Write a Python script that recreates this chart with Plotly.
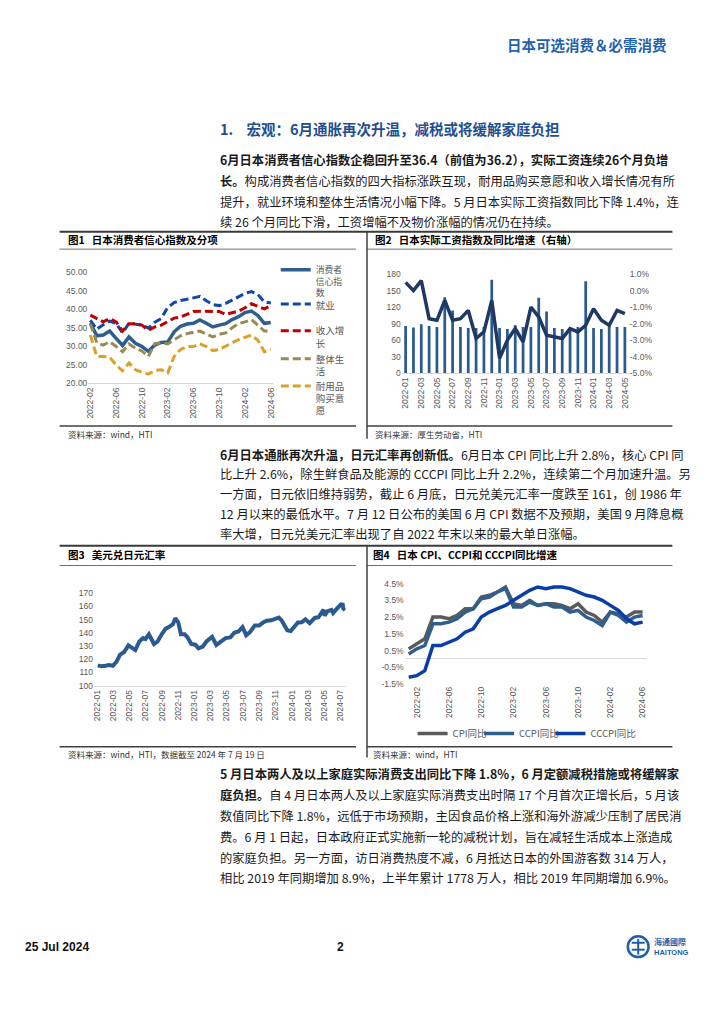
import plotly.graph_objects as go

# The page body adds an 8px margin, so the figure is drawn 8px smaller and
# reference pixel coordinates are shifted by that offset.
OFF = 8
W, H = 724 - OFF, 1024 - OFF
CJK = "Noto Sans CJK SC"
LAT = "Liberation Sans"
SP = "\u00a0"


def px(x):
    return (x - OFF) / W


def py(y):
    return 1 - (y - OFF) / H


# ---------------- data ----------------
def month_labels(y0, m0, n):
    out = []
    y, m = y0, m0
    for _ in range(n):
        out.append(f"{y}-{m:02d}")
        m += 1
        if m > 12:
            m = 1
            y += 1
    return out


# Fig 1: consumer confidence (2022-02 .. 2024-06)
c1_months = month_labels(2022, 2, 29)
conf_total = [36.3, 32.8, 33.0, 34.1, 32.1, 30.2, 32.5, 30.8, 29.9, 28.6, 30.3, 31.0, 31.1, 33.9, 35.4,
              36.0, 36.2, 37.1, 36.2, 35.2, 35.7, 36.1, 37.2, 38.0, 39.1, 39.5, 38.3, 36.2, 36.4]
conf_employ = [37.0, 34.6, 35.8, 36.8, 36.2, 33.6, 36.2, 35.9, 35.7, 34.9, 36.5, 37.5, 40.5, 41.8, 42.4,
               42.7, 43.0, 43.5, 42.3, 41.3, 41.0, 41.6, 42.5, 43.4, 44.3, 44.8, 44.0, 42.0, 41.7]
conf_income = [38.4, 37.4, 36.6, 37.5, 36.6, 34.1, 36.1, 36.1, 35.7, 34.3, 35.2, 35.7, 36.6, 37.6, 37.9,
               38.6, 39.4, 39.5, 39.4, 39.5, 39.4, 38.6, 39.0, 39.5, 40.4, 41.5, 40.8, 40.1, 41.0]
conf_life = [36.1, 30.9, 30.3, 31.2, 29.9, 28.5, 30.6, 29.4, 28.7, 27.2, 30.7, 30.9, 30.6, 31.8, 32.8,
             33.4, 33.7, 34.1, 33.3, 32.5, 33.2, 33.6, 35.0, 36.1, 36.6, 37.2, 35.7, 34.1, 34.1]
conf_durable = [33.0, 27.2, 27.2, 27.0, 24.9, 23.3, 25.4, 23.6, 22.9, 22.4, 23.4, 23.6, 22.7, 27.2, 29.1,
                29.9, 29.9, 30.6, 29.9, 28.8, 29.1, 29.9, 30.9, 31.8, 32.3, 33.0, 31.6, 28.5, 29.1]
c1_names = ["消费者<br>信心指<br>数", "就业", "收入增<br>长", "整体生<br>活", "耐用品<br>购买意<br>愿"]

# Fig 2: real wage index and YoY (2022-01 .. 2024-05)
c2_months = month_labels(2022, 1, 29)
wage_index = [85.8, 82.8, 88.8, 85.8, 84.0, 138.0, 114.0, 84.0, 82.2, 82.2, 84.0, 169.8, 82.0, 80.4, 87.0,
              84.0, 84.0, 136.8, 112.0, 82.2, 80.4, 82.2, 84.0, 166.8, 82.2, 80.4, 85.0, 84.0, 84.0]
wage_yoy = [0.5, 0.0, 0.6, -1.7, -1.8, -0.6, -1.8, -1.7, -1.2, -2.9, -2.5, -0.6, -4.1, -3.0, -2.3,
            -3.1, -1.0, -1.6, -2.7, -2.8, -2.9, -2.3, -2.5, -2.1, -1.1, -1.8, -2.1, -1.2, -1.4]

# Fig 3: USD/JPY
fx_dates = ["2022-01-03", "2022-01-17", "2022-02-01", "2022-02-15", "2022-03-01", "2022-03-15",
            "2022-03-28", "2022-04-12", "2022-04-28", "2022-05-12", "2022-05-24", "2022-06-08",
            "2022-06-22", "2022-07-01", "2022-07-14", "2022-08-02", "2022-08-15", "2022-08-31",
            "2022-09-14", "2022-09-28", "2022-10-12", "2022-10-21", "2022-11-01", "2022-11-11",
            "2022-11-25", "2022-12-06", "2022-12-20", "2023-01-04", "2023-01-16", "2023-02-01",
            "2023-02-15", "2023-03-08", "2023-03-24", "2023-04-11", "2023-04-28", "2023-05-15",
            "2023-05-30", "2023-06-15", "2023-06-30", "2023-07-14", "2023-07-28", "2023-08-15",
            "2023-08-31", "2023-09-15", "2023-09-29", "2023-10-16", "2023-10-31", "2023-11-13",
            "2023-11-24", "2023-12-07", "2023-12-15", "2023-12-28", "2024-01-12", "2024-01-24",
            "2024-02-07", "2024-02-21", "2024-03-08", "2024-03-27", "2024-04-10", "2024-04-26",
            "2024-04-29", "2024-05-03", "2024-05-14", "2024-05-29", "2024-06-04", "2024-06-14",
            "2024-06-26", "2024-07-03", "2024-07-10", "2024-07-12", "2024-07-19"]
fx_values = [115.3, 114.6, 115.0, 115.6, 115.0, 118.3, 123.5, 125.5, 130.5, 129.0, 126.9, 133.5,
             136.0, 135.3, 138.9, 131.5, 133.3, 138.9, 143.0, 144.5, 146.5, 151.0, 148.0, 139.0,
             139.0, 136.5, 131.5, 131.0, 128.2, 129.5, 133.5, 137.0, 130.8, 133.5, 136.0, 136.5,
             140.0, 141.0, 144.3, 138.2, 140.5, 145.5, 145.5, 147.8, 149.2, 149.5, 151.0, 151.5,
             149.4, 144.0, 142.0, 141.3, 145.0, 147.8, 148.0, 150.2, 147.3, 151.3, 151.8, 156.5,
             157.5, 153.0, 156.4, 157.3, 155.0, 157.4, 160.5, 161.5, 161.3, 158.5, 157.2]
fx_ticks = [f"{y}-{m:02d}" for y in (2022, 2023, 2024) for m in (1, 3, 5, 7, 9, 11)][:16]

# Fig 4: CPI (2022-01 .. 2024-06)
c4_months = month_labels(2022, 1, 30)
cpi = [0.6, 0.9, 1.2, 2.5, 2.5, 2.4, 2.6, 3.0, 3.0, 3.7, 3.8, 4.0, 4.3, 3.3, 3.2, 3.5, 3.2, 3.3, 3.3,
       3.2, 3.0, 3.3, 2.8, 2.6, 2.2, 2.8, 2.7, 2.5, 2.8, 2.8]
ccpi = [0.3, 0.6, 0.8, 2.1, 2.1, 2.2, 2.4, 2.8, 3.0, 3.6, 3.7, 4.0, 4.2, 3.1, 3.1, 3.4, 3.2, 3.3, 3.1,
        3.1, 2.8, 2.9, 2.5, 2.3, 2.0, 2.8, 2.6, 2.2, 2.5, 2.6]
cccpi = [-1.1, -1.0, -0.7, 0.8, 0.8, 1.0, 1.2, 1.6, 1.8, 2.5, 2.8, 3.0, 3.2, 3.5, 3.8, 4.1, 4.3, 4.2,
         4.3, 4.3, 4.2, 4.0, 3.8, 3.7, 3.5, 3.2, 2.9, 2.4, 2.1, 2.2]
c4_names = ["CPI同比", "CCPI同比", "CCCPI同比"]

# ---------------- figure ----------------
fig = go.Figure()
tickfont = dict(family=LAT, size=8.5, color="#595959")
dash = "8px,4px"

c1_styles = [("#2f5d8f", None), ("#1146aa", dash), ("#c00000", dash), ("#958b55", dash), ("#dca12a", dash)]
c1_series = [conf_total, conf_employ, conf_income, conf_life, conf_durable]
for i, (vals, (col, d)) in enumerate(zip(c1_series, c1_styles)):
    fig.add_trace(go.Scatter(x=c1_months, y=vals, mode="lines", name=c1_names[i],
                             line=dict(color=col, width=3.5 if d is None else 3, dash=d),
                             xaxis="x", yaxis="y", legend="legend" if i == 0 else f"legend{i + 1}"))

fig.add_trace(go.Bar(x=c2_months, y=wage_index, marker=dict(color="#2c5a8d", line=dict(width=0)),
                     xaxis="x2", yaxis="y2", showlegend=False))
fig.add_trace(go.Scatter(x=c2_months, y=wage_yoy, mode="lines", line=dict(color="#1f3864", width=3.5),
                         xaxis="x2", yaxis="y3", showlegend=False))

fig.add_trace(go.Scatter(x=fx_dates, y=fx_values, mode="lines", line=dict(color="#2a5a8f", width=4),
                         xaxis="x3", yaxis="y4", showlegend=False))

for i, (vals, col) in enumerate(zip([cpi, ccpi, cccpi], ["#5a5a5a", "#2f5f8f", "#0b3da8"])):
    fig.add_trace(go.Scatter(x=c4_months, y=vals, mode="lines", name=c4_names[i],
                             line=dict(color=col, width=3.5), xaxis="x4", yaxis="y5",
                             legend=f"legend{6 + i}"))

common_x = dict(showgrid=False, zeroline=False, ticks="", tickangle=-90, tickfont=tickfont, fixedrange=True)
common_y = dict(showgrid=False, zeroline=False, ticks="", tickfont=tickfont, fixedrange=True)

layout = dict(
    width=W, height=H, margin=dict(l=0, r=0, t=0, b=0),
    paper_bgcolor="white", plot_bgcolor="white",
    bargap=0.65, hovermode=False,
    xaxis=dict(domain=[px(86), px(272)], anchor="y", type="category", range=[-0.31, 28.31],
               tickmode="array", tickvals=c1_months[::4], showline=True, linecolor="#d9d9d9", **common_x),
    yaxis=dict(domain=[py(381.7), py(270)], anchor="x", range=[20, 50], tickmode="array",
               tickvals=[20, 25, 30, 35, 40, 45, 50], ticktext=[f"{v:.2f}" for v in [20, 25, 30, 35, 40, 45, 50]],
               **common_y),
    xaxis2=dict(domain=[px(402), px(631)], anchor="y2", type="category", range=[-0.5, 28.5],
                tickmode="array", tickvals=c2_months[::2], showline=True, linecolor="#d9d9d9", **common_x),
    yaxis2=dict(domain=[py(371.7), py(271.7)], anchor="x2", range=[0, 180], tickmode="array",
                tickvals=[0, 30, 60, 90, 120, 150, 180], **common_y),
    yaxis3=dict(overlaying="y2", side="right", anchor="x2", range=[-5, 1], tickmode="array",
                tickvals=[-5, -4, -3, -2, -1, 0, 1],
                ticktext=["-5.0%", "-4.0%", "-3.0%", "-2.0%", "-1.0%", "0.0%", "1.0%"], **common_y),
    xaxis3=dict(domain=[px(91.7), px(345.5)], anchor="y4", type="date", range=["2021-12-20", "2024-07-21"],
                tickmode="array", tickvals=[t + "-01" for t in fx_ticks], ticktext=fx_ticks,
                showline=True, linecolor="#d9d9d9", **common_x),
    yaxis4=dict(domain=[py(687.3), py(594)], anchor="x3", range=[100, 170], tickmode="array",
                tickvals=[100, 110, 120, 130, 140, 150, 160, 170], **common_y),
    xaxis4=dict(domain=[px(405), px(649)], anchor="y5", type="category", range=[-0.5, 29.5],
                tickmode="array", tickvals=c4_months[1::4], showline=False, **common_x),
    yaxis5=dict(domain=[py(685.7), py(584.3)], anchor="x4", range=[-1.5, 4.5], tickmode="array",
                tickvals=[-1.5, -0.5, 0.5, 1.5, 2.5, 3.5, 4.5],
                ticktext=["-1.5%", "-0.5%", "0.5%", "1.5%", "2.5%", "3.5%", "4.5%"],
                showgrid=False, zeroline=True, zerolinecolor="#d9d9d9", zerolinewidth=1,
                ticks="", tickfont=tickfont, fixedrange=True),
)

c1_leg_y = [255, 289, 316, 344.5, 372]
c1_leg_size = [8.8, 9.5, 9.5, 9.5, 9.5]
for i, yy in enumerate(c1_leg_y):
    key = "legend" if i == 0 else f"legend{i + 1}"
    layout[key] = dict(x=px(275), y=py(yy), xanchor="left", yanchor="top", bgcolor="rgba(0,0,0,0)",
                       font=dict(family=CJK, size=c1_leg_size[i], color="#595959"),
                       valign="top", itemwidth=30, tracegroupgap=0)
c4_leg_x = [413, 480, 552]
for i, xx in enumerate(c4_leg_x):
    layout[f"legend{6 + i}"] = dict(x=px(xx), y=py(721), xanchor="left", yanchor="top",
                                    bgcolor="rgba(0,0,0,0)", font=dict(family=CJK, size=9.5, color="#595959"),
                                    itemwidth=30, orientation="h")

fig.update_layout(**layout)

# ---------------- page text ----------------
ann = []


def text(x, y, s, size=12.3, color="#1a1a1a", family=CJK, anchor="left"):
    ann.append(dict(x=px(x), y=py(y), xref="paper", yref="paper", text=s, showarrow=False,
                    xanchor=anchor, yanchor="middle", font=dict(family=family, size=size, color=color)))


text(672, 40, "<b>日本可选消费＆必需消费</b>", size=14.5, color="#1f62b0", anchor="right")
text(217, 125, f"<b>1.{SP * 4}宏观：6月通胀再次升温，减税或将缓解家庭负担</b>", size=14.5, color="#1f4f8f")

p1 = ["<b>6月日本消费者信心指数企稳回升至36.4（前值为36.2），实际工资连续26个月负增</b>",
      "<b>长。</b>构成消费者信心指数的四大指标涨跌互现，耐用品购买意愿和收入增长情况有所",
      "提升，就业环境和整体生活情况小幅下降。5 月日本实际工资指数同比下降 1.4%，连",
      "续 26 个月同比下滑，工资增幅不及物价涨幅的情况仍在持续。"]
for i, s in enumerate(p1):
    text(217, 156.5 + 21 * i, s)

p2 = ["<b>6月日本通胀再次升温，日元汇率再创新低。</b>6月日本 CPI 同比上升 2.8%，核心 CPI 同",
      "比上升 2.6%，除生鲜食品及能源的 CCCPI 同比上升 2.2%，连续第二个月加速升温。另",
      "一方面，日元依旧维持弱势，截止 6 月底，日元兑美元汇率一度跌至 161，创 1986 年",
      "12 月以来的最低水平。7 月 12 日公布的美国 6 月 CPI 数据不及预期，美国 9 月降息概",
      "率大增，日元兑美元汇率出现了自 2022 年末以来的最大单日涨幅。"]
for i, s in enumerate(p2):
    text(217, 454 + 20 * i, s)

p3 = ["<b>5 月日本两人及以上家庭实际消费支出同比下降 1.8%，6 月定额减税措施或将缓解家</b>",
      "<b>庭负担。</b>自 4 月日本两人及以上家庭实际消费支出时隔 17 个月首次正增长后，5 月该",
      "数值同比下降 1.8%，远低于市场预期，主因食品价格上涨和海外游减少压制了居民消",
      "费。6 月 1 日起，日本政府正式实施新一轮的减税计划，旨在减轻生活成本上涨造成",
      "的家庭负担。另一方面，访日消费热度不减，6 月抵达日本的外国游客数 314 万人，",
      "相比 2019 年同期增加 8.9%，上半年累计 1778 万人，相比 2019 年同期增加 6.9%。"]
for i, s in enumerate(p3):
    text(217, 777 + 21 * i, s)

# chart titles and sources
text(63, 236.7, f"<b>图1{SP * 3}日本消费者信心指数及分项</b>", size=10.5, color="#000000")
text(373, 236.7, f"<b>图2{SP * 3}日本实际工资指数及同比增速（右轴）</b>", size=10.5, color="#000000")
text(63, 555, f"<b>图3{SP * 3}美元兑日元汇率</b>", size=10.5, color="#000000")
text(371, 555, f"<b>图4{SP * 3}日本 CPI、CCPI和 CCCPI同比增速</b>", size=10.5, color="#000000")
text(63, 433.3, "资料来源：wind，HTI", size=8.5, color="#333333")
text(373, 433.3, "资料来源：厚生劳动省，HTI", size=8.5, color="#333333")
text(63, 756.7, "资料来源：wind，HTI，数据截至 2024 年 7 月 19 日", size=8.5, color="#333333")
text(371, 756.7, "资料来源：wind，HTI", size=8.5, color="#333333")

# footer
text(20, 951, "<b>25 Jul 2024</b>", size=12, color="#111111", family=LAT)
text(340, 951, "<b>2</b>", size=12, color="#111111", family=LAT, anchor="center")
text(654, 945.5, "<b>海通國際</b>", size=8, color="#1f5fa8")
text(654, 956.5, "<b>HAITONG</b>", size=7.5, color="#1f5fa8", family=LAT)

fig.update_layout(annotations=ann)

# ---------------- rules / boxes ----------------
shapes = []


def hline(y, x0, x1, color, w):
    shapes.append(dict(type="line", xref="paper", yref="paper", x0=px(x0), x1=px(x1), y0=py(y), y1=py(y),
                       line=dict(color=color, width=w)))


def vline(x, y0, y1, color, w):
    shapes.append(dict(type="line", xref="paper", yref="paper", x0=px(x), x1=px(x), y0=py(y0), y1=py(y1),
                       line=dict(color=color, width=w)))


for top, sub, bot, vb in [(229, 246.5, 425, 438), (546, 566, 749, 760)]:
    hline(top, 57, 675, "#3a3a3a", 2)
    hline(sub, 57, 356, "#6f6f6f", 1)
    hline(sub, 367, 675, "#6f6f6f", 1)
    hline(bot, 57, 356, "#404040", 1.5)
    hline(bot, 367, 675, "#404040", 1.5)
    vline(367, top, vb, "#404040", 1.5)

# logo
shapes.append(dict(type="circle", xref="paper", yref="paper", x0=px(630), x1=px(651), y0=py(961.5),
                   y1=py(940.5), line=dict(color="#1f5fa8", width=2.5)))
vline(640.5, 943, 959, "#1f5fa8", 2)
hline(947, 634, 647, "#1f5fa8", 2)
hline(954, 634, 647, "#1f5fa8", 2)

fig.update_layout(shapes=shapes)

fig.write_html("out.html")
